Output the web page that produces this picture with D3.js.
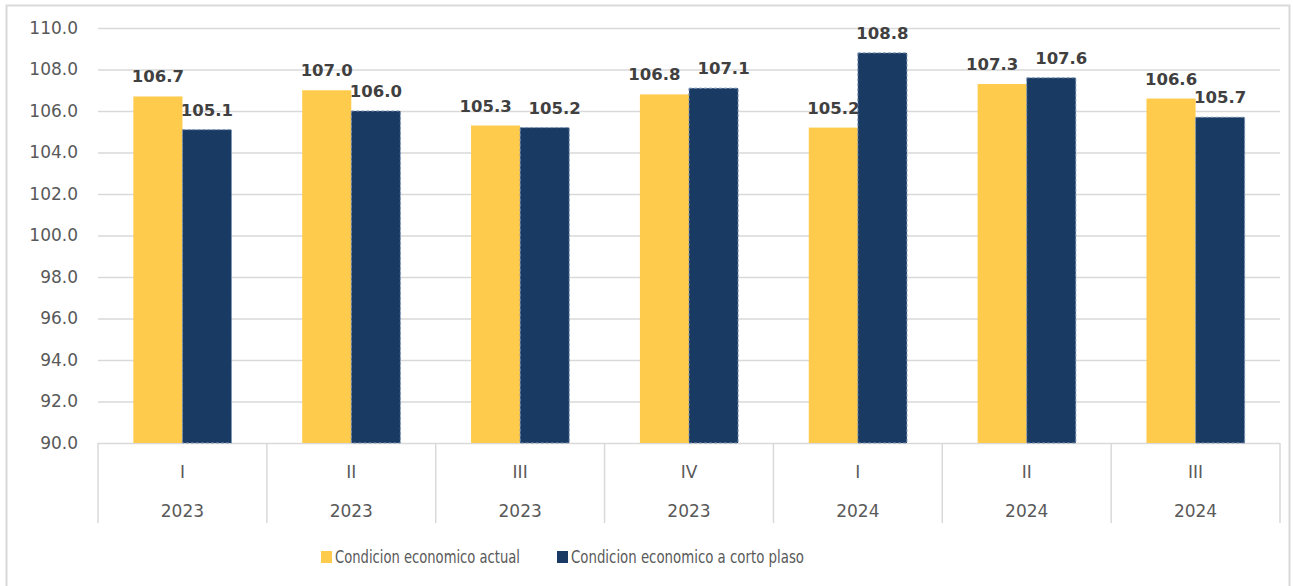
<!DOCTYPE html>
<html>
<head>
<meta charset="utf-8">
<script src="https://cdn.jsdelivr.net/npm/d3@7"></script>
<style>
  body { margin: 0; background: #fff; }
  svg { display: block; }
</style>
</head>
<body>
<script>
// values
var quarters = ["I", "II", "III", "IV", "I", "II", "III"]
var years = ["2023", "2023", "2023", "2023", "2024", "2024", "2024"]
var actual = [106.7, 107.0, 105.3, 106.8, 105.2, 107.3, 106.6]
var cortoPlazo = [105.1, 106.0, 105.2, 107.1, 108.8, 107.6, 105.7]
var seriesNames = ["Condicion economico actual", "Condicion economico a corto plaso"]
var yTicks = [90, 92, 94, 96, 98, 100, 102, 104, 106, 108, 110]

var width = 1293, height = 586
var margin = { left: 98, right: 13, top: 28, bottom: 143 }
var colors = ["#FFCB4C", "#183A63"]
var gridColor = "#d9d9d9"
var textColor = "#595959"

var svg = d3.select("body").append("svg")
  .attr("width", width)
  .attr("height", height)

// outer frame
svg.append("rect")
  .attr("x", 6.5).attr("y", 5.5)
  .attr("width", 1283).attr("height", 600)
  .attr("fill", "none")
  .attr("stroke", gridColor)
  .attr("stroke-width", 2)

var x0 = d3.scaleBand()
  .domain(d3.range(quarters.length))
  .range([margin.left, width - margin.right])
  .padding(0)

var x1 = d3.scaleBand()
  .domain([0, 1])
  .range([0, x0.bandwidth()])
  .paddingInner(0)
  .paddingOuter(0.72)

var y = d3.scaleLinear()
  .domain([90, 110])
  .range([height - margin.bottom, margin.top])

// y axis with gridlines
var yAxis = d3.axisLeft(y)
  .tickValues(yTicks)
  .tickFormat(d3.format(".1f"))
  .tickSizeInner(-(width - margin.left - margin.right))
  .tickSizeOuter(0)
  .tickPadding(20)

var gy = svg.append("g")
  .attr("transform", "translate(" + margin.left + ",0)")
  .call(yAxis)
gy.select(".domain").remove()
gy.selectAll(".tick line")
  .attr("stroke", gridColor)
  .attr("stroke-width", 1.5)
gy.selectAll(".tick text")
  .attr("fill", textColor)
  .attr("font-family", "DejaVu Sans, sans-serif")
  .attr("font-size", 17)

// category separators
var base = y(90)
var edges = x0.domain().map(function (i) { return x0(i) })
edges.push(x0.range()[1])
svg.selectAll("line.sep")
  .data(edges)
  .enter().append("line")
  .attr("class", "sep")
  .attr("x1", function (d) { return d }).attr("x2", function (d) { return d })
  .attr("y1", base).attr("y2", base + 80)
  .attr("stroke", gridColor)
  .attr("stroke-width", 1.5)

// bars
var groups = x0.domain().map(function (i) {
  return { i: i, vals: [actual[i], cortoPlazo[i]] }
})

var g = svg.selectAll("g.grp")
  .data(groups)
  .enter().append("g")
  .attr("class", "grp")
  .attr("transform", function (d) { return "translate(" + x0(d.i) + ",0)" })

g.selectAll("rect")
  .data(function (d) { return d.vals.map(function (v, s) { return { s: s, v: v } }) })
  .enter().append("rect")
  .attr("x", function (d) { return x1(d.s) })
  .attr("y", function (d) { return y(d.v) })
  .attr("width", x1.bandwidth())
  .attr("height", function (d) { return base - y(d.v) })
  .attr("fill", function (d) { return colors[d.s] })
  .attr("stroke", function (d) { return d.s === 1 ? "#7f96b5" : "none" })
  .attr("stroke-width", 1)
  .attr("stroke-dasharray", "3,2")

// value labels, nudged sideways when the two would collide
g.selectAll("text.val")
  .data(function (d) {
    var close = Math.abs(y(d.vals[0]) - y(d.vals[1])) < 14
    return d.vals.map(function (v, s) {
      return { s: s, v: v, dx: close ? (s === 0 ? -10 : 10) : 0 }
    })
  })
  .enter().append("text")
  .attr("class", "val")
  .attr("x", function (d) { return x1(d.s) + x1.bandwidth() / 2 + d.dx })
  .attr("y", function (d) { return y(d.v) - 14 })
  .attr("text-anchor", "middle")
  .attr("font-family", "DejaVu Sans, sans-serif")
  .attr("font-weight", "bold")
  .attr("font-size", 16.5)
  .attr("fill", "#404040")
  .text(function (d) { return d3.format(".1f")(d.v) })

// two-level category labels
g.append("text")
  .attr("x", x0.bandwidth() / 2)
  .attr("y", base + 29)
  .attr("dy", "0.35em")
  .attr("text-anchor", "middle")
  .attr("font-family", "DejaVu Sans, sans-serif")
  .attr("font-size", 17)
  .attr("fill", textColor)
  .text(function (d) { return quarters[d.i] })

g.append("text")
  .attr("x", x0.bandwidth() / 2)
  .attr("y", base + 68)
  .attr("dy", "0.35em")
  .attr("text-anchor", "middle")
  .attr("font-family", "DejaVu Sans, sans-serif")
  .attr("font-size", 17)
  .attr("fill", textColor)
  .text(function (d) { return years[d.i] })

// legend (narrow face in the original, so squeeze the glyphs to fit)
var legendX = [321, 557]
var legendW = [185, 233]
var legend = svg.selectAll("g.leg")
  .data(seriesNames)
  .enter().append("g")
  .attr("class", "leg")
  .attr("transform", function (d, i) { return "translate(" + legendX[i] + ",557)" })

legend.append("rect")
  .attr("x", 0).attr("y", -6)
  .attr("width", 11).attr("height", 12)
  .attr("fill", function (d, i) { return colors[i] })

legend.append("text")
  .attr("x", 14)
  .attr("dy", "0.35em")
  .attr("font-family", "DejaVu Sans, sans-serif")
  .attr("font-size", 18)
  .attr("textLength", function (d, i) { return legendW[i] })
  .attr("lengthAdjust", "spacingAndGlyphs")
  .attr("fill", textColor)
  .text(function (d) { return d })
</script>
</body>
</html>
